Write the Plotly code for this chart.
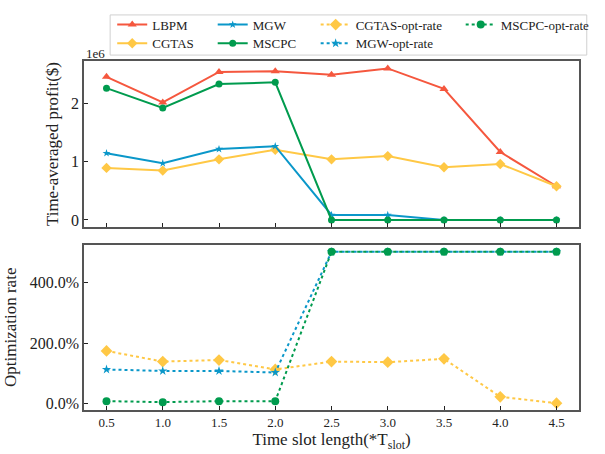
import plotly.graph_objects as go
from plotly.subplots import make_subplots

x_vals = [0.5, 1.0, 1.5, 2.0, 2.5, 3.0, 3.5, 4.0, 4.5]
x_labels = ["0.5", "1.0", "1.5", "2.0", "2.5", "3.0", "3.5", "4.0", "4.5"]

# Time-averaged profit ($)
lbpm = [2.466e6, 2.024e6, 2.55e6, 2.56e6, 2.50e6, 2.61e6, 2.257e6, 1.17e6, 0.58e6]
cgtas = [0.896e6, 0.85e6, 1.044e6, 1.21e6, 1.044e6, 1.10e6, 0.907e6, 0.964e6, 0.58e6]
mgw = [1.15e6, 0.976e6, 1.22e6, 1.27e6, 0.085e6, 0.085e6, 0.0, 0.0, 0.0]
mscpc = [2.27e6, 1.93e6, 2.34e6, 2.37e6, 0.0, 0.0, 0.0, 0.0, 0.0]

# Optimization rate (%)
cgtas_opt = [174, 139, 144, 113, 139, 137, 148, 23, 2]
mgw_opt = [113, 108, 108, 103, 500, 500, 500, 500, 500]
mscpc_opt = [8.7, 5.5, 8.7, 8.7, 500, 500, 500, 500, 500]

profit_ticks = [0, 1e6, 2e6]
profit_ticklabels = ["0", "1", "2"]
rate_ticks = [0, 200, 400]
rate_ticklabels = ["0.0%", "200.0%", "400.0%"]

RED = "#F5573E"
YEL = "#FFC845"
BLU = "#0A97C9"
GRN = "#009B4E"
FONT = "Liberation Serif"

fig = make_subplots(rows=2, cols=1, shared_xaxes=True)

def add(y, name, color, symbol, size, dash, row, legend):
    fig.add_trace(go.Scatter(
        x=x_vals, y=y, name=name, mode="lines+markers",
        line=dict(color=color, width=2, dash=dash),
        marker=dict(color=color, symbol=symbol, size=size, line=dict(width=0)),
        legend=legend), row=row, col=1)

add(lbpm, "LBPM", RED, "triangle-up", 8, "solid", 1, "legend")
add(cgtas, "CGTAS", YEL, "diamond", 8, "solid", 1, "legend2")
add(mgw, "MGW", BLU, "star", 6, "solid", 1, "legend3")
add(mscpc, "MSCPC", GRN, "circle", 7, "solid", 1, "legend4")
add(cgtas_opt, "CGTAS-opt-rate", YEL, "diamond", 9, "dot", 2, "legend5")
add(mgw_opt, "MGW-opt-rate", BLU, "star", 7, "dot", 2, "legend6")
add(mscpc_opt, "MSCPC-opt-rate", GRN, "circle", 8, "dot", 2, "legend7")

axcommon = dict(showline=True, linecolor="#555555", linewidth=1.5, mirror=True,
                ticks="inside", ticklen=4, tickwidth=1.2, tickcolor="#222222",
                showgrid=False, zeroline=False)

fig.update_xaxes(**axcommon, range=[0.3, 4.7], tickvals=x_vals, ticktext=x_labels,
                 tickfont=dict(family=FONT, size=13, color="#222"))
fig.update_xaxes(showticklabels=False, row=1, col=1)
fig.update_xaxes(title=dict(text="Time slot length(*T<sub>slot</sub>)",
                            font=dict(family=FONT, size=17, color="#222"), standoff=3),
                 row=2, col=1)

fig.update_yaxes(**axcommon, tickfont=dict(family=FONT, size=16, color="#222"))
fig.update_yaxes(range=[-0.124e6, 2.738e6], tickvals=profit_ticks, ticktext=profit_ticklabels,
                 title=dict(text="Time-averaged profit($)", font=dict(family=FONT, size=17, color="#222"),
                            standoff=8),
                 row=1, col=1)
fig.update_yaxes(range=[-20.4, 524], tickvals=rate_ticks, ticktext=rate_ticklabels,
                 title=dict(text="Optimization rate", font=dict(family=FONT, size=17, color="#222"),
                            standoff=9),
                 row=2, col=1)

fig.update_layout(yaxis=dict(domain=[0.524, 1.0]), yaxis2=dict(domain=[0.0, 0.474]))

leg_common = dict(bgcolor="rgba(0,0,0,0)", borderwidth=0, xanchor="left", yanchor="middle",
                  font=dict(family=FONT, size=13, color="#222"), orientation="v",
                  tracegroupgap=0, itemwidth=30)
r1, r2 = 1.1042, 1.0507
c1, c2, c3, c4 = 0.057, 0.260, 0.468, 0.761
fig.update_layout(
    legend=dict(x=c1, y=r1, **leg_common),
    legend2=dict(x=c1, y=r2, **leg_common),
    legend3=dict(x=c2, y=r1, **leg_common),
    legend4=dict(x=c2, y=r2, **leg_common),
    legend5=dict(x=c3, y=r1, **leg_common),
    legend6=dict(x=c3, y=r2, **leg_common),
    legend7=dict(x=c4, y=r1, **leg_common),
)

fig.add_shape(type="rect", xref="paper", yref="paper",
              x0=0.0528, x1=1.0157, y0=1.017, y1=1.132,
              line=dict(color="#D0D0D0", width=1), fillcolor="white", layer="below")

fig.add_annotation(text="1e6", xref="paper", yref="paper", x=0.0, y=1.0225,
                   xanchor="left", yanchor="middle", showarrow=False,
                   font=dict(family=FONT, size=13, color="#222"))

fig.update_layout(width=605, height=454, margin=dict(l=84, r=10, t=55, b=44),
                  paper_bgcolor="white", plot_bgcolor="white", showlegend=True)

fig.write_html("out.html")
